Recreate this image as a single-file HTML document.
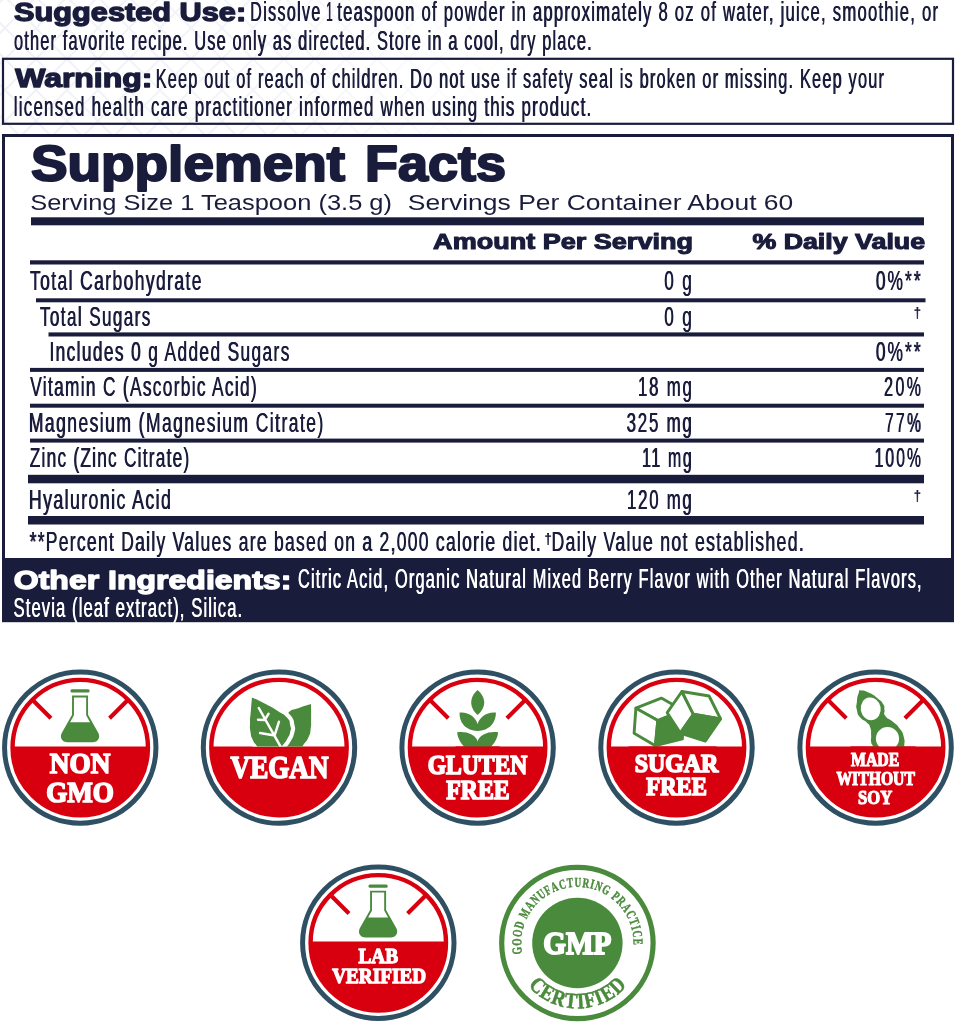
<!DOCTYPE html>
<html><head><meta charset="utf-8"><title>Supplement Facts</title>
<style>
html,body{margin:0;padding:0;background:#fff;}
body{width:956px;height:1024px;overflow:hidden;font-family:"Liberation Sans",sans-serif;}
svg{display:block;will-change:transform;}
text{white-space:pre;}
</style></head><body>
<svg width="956" height="1024" viewBox="0 0 956 1024">
<rect width="956" height="1024" fill="#ffffff"/>
<defs><pattern id="lat" width="31" height="31" patternUnits="userSpaceOnUse" patternTransform="translate(5,28)"><path d="M-1,-1 L32,32 M32,-1 L-1,32" stroke="#f1f2f8" stroke-width="2" fill="none"/></pattern><linearGradient id="fade" x1="0" x2="1" y1="0" y2="0"><stop offset="0" stop-color="#fff"/><stop offset="0.45" stop-color="#fff" stop-opacity="0.8"/><stop offset="1" stop-color="#fff" stop-opacity="0"/></linearGradient><mask id="fadeMask"><rect x="0" y="0" width="560" height="134" fill="url(#fade)"/></mask></defs>
<rect x="0" y="0" width="560" height="134" fill="url(#lat)" mask="url(#fadeMask)"/>
<text transform="translate(14.11,21.00) scale(1.2282,1)" font-family="Liberation Sans" font-size="25.0" font-weight="bold" fill="#1a1c3c" textLength="188.93" lengthAdjust="spacing"  stroke="#1a1c3c" stroke-width="1.35" stroke-linejoin="round">Suggested Use:</text>
<text id="t2" transform="translate(250.02,21.40) scale(0.5714,1)" font-family="Liberation Sans" font-size="28.0" font-weight="normal" fill="#1a1c3c" textLength="122.47" lengthAdjust="spacing" >Dissolve</text>
<use href="#t2" transform="translate(0.60,0)"/>
<text id="t3" transform="translate(325.93,21.40) scale(0.4129,1)" font-family="Liberation Sans" font-size="28.0" font-weight="normal" fill="#1a1c3c" textLength="15.57" lengthAdjust="spacing" >1</text>
<use href="#t3" transform="translate(0.60,0)"/>
<text id="t4" transform="translate(336.95,21.40) scale(0.5960,1)" font-family="Liberation Sans" font-size="28.0" font-weight="normal" fill="#1a1c3c" textLength="1007.95" lengthAdjust="spacing" >teaspoon of powder in approximately 8 oz of water, juice, smoothie, or</text>
<use href="#t4" transform="translate(0.60,0)"/>
<text id="t5" transform="translate(13.74,49.70) scale(0.5860,1)" font-family="Liberation Sans" font-size="28.0" font-weight="normal" fill="#1a1c3c" textLength="985.72" lengthAdjust="spacing" >other favorite recipe. Use only as directed. Store in a cool, dry place.</text>
<use href="#t5" transform="translate(0.60,0)"/>
<rect x="3" y="58.8" width="950" height="65" fill="none" stroke="#1a1c3c" stroke-width="2.2"/>
<text transform="translate(15.25,87.40) scale(1.2762,1)" font-family="Liberation Sans" font-size="25.0" font-weight="bold" fill="#1a1c3c" textLength="107.39" lengthAdjust="spacing"  stroke="#1a1c3c" stroke-width="1.32" stroke-linejoin="round">Warning:</text>
<text id="t7" transform="translate(155.39,87.60) scale(0.5842,1)" font-family="Liberation Sans" font-size="28.0" font-weight="normal" fill="#1a1c3c" textLength="1246.53" lengthAdjust="spacing" >Keep out of reach of children. Do not use if safety seal is broken or missing. Keep your</text>
<use href="#t7" transform="translate(0.60,0)"/>
<text id="t8" transform="translate(13.50,115.50) scale(0.6047,1)" font-family="Liberation Sans" font-size="28.0" font-weight="normal" fill="#1a1c3c" textLength="954.89" lengthAdjust="spacing" >licensed health care practitioner informed when using this product.</text>
<use href="#t8" transform="translate(0.60,0)"/>
<rect x="3.5" y="135.5" width="949" height="424" fill="#ffffff" stroke="#1a1c3c" stroke-width="3"/>
<text transform="translate(30.99,181.00) scale(1.1084,1)" font-family="Liberation Sans" font-size="49.5" font-weight="bold" fill="#1a1c3c" textLength="283.28" lengthAdjust="spacing"  stroke="#1a1c3c" stroke-width="2.09" stroke-linejoin="round">Supplement</text>
<text transform="translate(365.09,181.00) scale(1.0901,1)" font-family="Liberation Sans" font-size="49.5" font-weight="bold" fill="#1a1c3c" textLength="129.31" lengthAdjust="spacing"  stroke="#1a1c3c" stroke-width="2.11" stroke-linejoin="round">Facts</text>
<text transform="translate(30.15,210.00) scale(1.1167,1)" font-family="Liberation Sans" font-size="22.8" font-weight="normal" fill="#1a1c3c" textLength="324.05" lengthAdjust="spacing" >Serving Size 1 Teaspoon (3.5 g)</text>
<text transform="translate(407.81,210.00) scale(1.1608,1)" font-family="Liberation Sans" font-size="22.8" font-weight="normal" fill="#1a1c3c" textLength="332.08" lengthAdjust="spacing" >Servings Per Container About 60</text>
<rect x="31.00" y="217.30" width="893.00" height="8.00" fill="#1a1c3c"/>
<text transform="translate(433.12,248.50) scale(1.2750,1)" font-family="Liberation Sans" font-size="21.2" font-weight="bold" fill="#1a1c3c" textLength="203.80" lengthAdjust="spacing"  stroke="#1a1c3c" stroke-width="1.05" stroke-linejoin="round">Amount Per Serving</text>
<text transform="translate(752.40,248.50) scale(1.2633,1)" font-family="Liberation Sans" font-size="21.2" font-weight="bold" fill="#1a1c3c" textLength="136.70" lengthAdjust="spacing"  stroke="#1a1c3c" stroke-width="1.06" stroke-linejoin="round">% Daily Value</text>
<rect x="30.00" y="260.30" width="894.00" height="4.20" fill="#1a1c3c"/>
<text id="t15" transform="translate(29.65,290.00) scale(0.6197,1)" font-family="Liberation Sans" font-size="28.2" font-weight="normal" fill="#1a1c3c" textLength="276.77" lengthAdjust="spacing" >Total Carbohydrate</text>
<use href="#t15" transform="translate(0.60,0)"/>
<text id="t16" transform="translate(663.96,290.00) scale(0.6099,1)" font-family="Liberation Sans" font-size="28.2" font-weight="normal" fill="#1a1c3c" textLength="45.13" lengthAdjust="spacing" >0 g</text>
<use href="#t16" transform="translate(0.60,0)"/>
<text id="t17" transform="translate(875.55,290.00) scale(0.6162,1)" font-family="Liberation Sans" font-size="28.2" font-weight="normal" fill="#1a1c3c" textLength="72.68" lengthAdjust="spacing" >0%**</text>
<use href="#t17" transform="translate(0.60,0)"/>
<rect x="36.00" y="298.30" width="889.50" height="4.00" fill="#1a1c3c"/>
<text id="t18" transform="translate(39.66,325.80) scale(0.6061,1)" font-family="Liberation Sans" font-size="28.2" font-weight="normal" fill="#1a1c3c" textLength="182.03" lengthAdjust="spacing" >Total Sugars</text>
<use href="#t18" transform="translate(0.60,0)"/>
<text id="t19" transform="translate(663.96,325.80) scale(0.6099,1)" font-family="Liberation Sans" font-size="28.2" font-weight="normal" fill="#1a1c3c" textLength="45.13" lengthAdjust="spacing" >0 g</text>
<use href="#t19" transform="translate(0.60,0)"/>
<text id="t20" transform="translate(913.55,318.30) scale(0.8769,1)" font-family="Liberation Sans" font-size="15" font-weight="normal" fill="#1a1c3c" textLength="9.38" lengthAdjust="spacing" >†</text>
<use href="#t20" transform="translate(0.50,0)"/>
<rect x="48.50" y="332.40" width="875.50" height="4.10" fill="#1a1c3c"/>
<text id="t21" transform="translate(49.14,360.70) scale(0.6129,1)" font-family="Liberation Sans" font-size="28.2" font-weight="normal" fill="#1a1c3c" textLength="391.39" lengthAdjust="spacing" >Includes 0 g Added Sugars</text>
<use href="#t21" transform="translate(0.60,0)"/>
<text id="t22" transform="translate(875.55,360.70) scale(0.6162,1)" font-family="Liberation Sans" font-size="28.2" font-weight="normal" fill="#1a1c3c" textLength="72.68" lengthAdjust="spacing" >0%**</text>
<use href="#t22" transform="translate(0.60,0)"/>
<rect x="30.00" y="367.90" width="894.00" height="4.00" fill="#1a1c3c"/>
<text id="t23" transform="translate(29.96,396.00) scale(0.6137,1)" font-family="Liberation Sans" font-size="28.2" font-weight="normal" fill="#1a1c3c" textLength="369.03" lengthAdjust="spacing" >Vitamin C (Ascorbic Acid)</text>
<use href="#t23" transform="translate(0.60,0)"/>
<text id="t24" transform="translate(637.74,396.00) scale(0.5938,1)" font-family="Liberation Sans" font-size="28.2" font-weight="normal" fill="#1a1c3c" textLength="90.50" lengthAdjust="spacing" >18 mg</text>
<use href="#t24" transform="translate(0.60,0)"/>
<text id="t25" transform="translate(883.80,396.00) scale(0.5646,1)" font-family="Liberation Sans" font-size="28.2" font-weight="normal" fill="#1a1c3c" textLength="65.25" lengthAdjust="spacing" >20%</text>
<use href="#t25" transform="translate(0.60,0)"/>
<rect x="30.00" y="403.70" width="894.00" height="4.00" fill="#1a1c3c"/>
<text id="t26" transform="translate(28.60,431.70) scale(0.6197,1)" font-family="Liberation Sans" font-size="28.2" font-weight="normal" fill="#1a1c3c" textLength="474.99" lengthAdjust="spacing" >Magnesium (Magnesium Citrate)</text>
<use href="#t26" transform="translate(0.60,0)"/>
<text id="t27" transform="translate(626.37,431.70) scale(0.5977,1)" font-family="Liberation Sans" font-size="28.2" font-weight="normal" fill="#1a1c3c" textLength="108.91" lengthAdjust="spacing" >325 mg</text>
<use href="#t27" transform="translate(0.60,0)"/>
<text id="t28" transform="translate(884.72,431.70) scale(0.5503,1)" font-family="Liberation Sans" font-size="28.2" font-weight="normal" fill="#1a1c3c" textLength="65.25" lengthAdjust="spacing" >77%</text>
<use href="#t28" transform="translate(0.60,0)"/>
<rect x="30.00" y="438.60" width="894.00" height="4.00" fill="#1a1c3c"/>
<text id="t29" transform="translate(29.48,466.50) scale(0.6130,1)" font-family="Liberation Sans" font-size="28.2" font-weight="normal" fill="#1a1c3c" textLength="260.13" lengthAdjust="spacing" >Zinc (Zinc Citrate)</text>
<use href="#t29" transform="translate(0.60,0)"/>
<text id="t30" transform="translate(641.81,466.50) scale(0.5630,1)" font-family="Liberation Sans" font-size="28.2" font-weight="normal" fill="#1a1c3c" textLength="88.07" lengthAdjust="spacing" >11 mg</text>
<use href="#t30" transform="translate(0.60,0)"/>
<text id="t31" transform="translate(874.32,466.50) scale(0.5557,1)" font-family="Liberation Sans" font-size="28.2" font-weight="normal" fill="#1a1c3c" textLength="83.36" lengthAdjust="spacing" >100%</text>
<use href="#t31" transform="translate(0.60,0)"/>
<rect x="28.00" y="474.80" width="896.00" height="8.50" fill="#1a1c3c"/>
<text id="t32" transform="translate(28.58,508.50) scale(0.6300,1)" font-family="Liberation Sans" font-size="28.2" font-weight="normal" fill="#1a1c3c" textLength="225.34" lengthAdjust="spacing" >Hyaluronic Acid</text>
<use href="#t32" transform="translate(0.60,0)"/>
<text id="t33" transform="translate(626.74,508.50) scale(0.5951,1)" font-family="Liberation Sans" font-size="28.2" font-weight="normal" fill="#1a1c3c" textLength="108.74" lengthAdjust="spacing" >120 mg</text>
<use href="#t33" transform="translate(0.60,0)"/>
<text id="t34" transform="translate(913.55,501.00) scale(0.8769,1)" font-family="Liberation Sans" font-size="15" font-weight="normal" fill="#1a1c3c" textLength="9.38" lengthAdjust="spacing" >†</text>
<use href="#t34" transform="translate(0.50,0)"/>
<rect x="28.00" y="516.00" width="896.00" height="8.50" fill="#1a1c3c"/>
<text id="t35" transform="translate(29.34,551.00) scale(0.6212,1)" font-family="Liberation Sans" font-size="28.2" font-weight="normal" fill="#1a1c3c" textLength="822.85" lengthAdjust="spacing" >**Percent Daily Values are based on a 2,000 calorie diet.</text>
<use href="#t35" transform="translate(0.60,0)"/>
<text id="t36" transform="translate(544.36,543.50) scale(0.8627,1)" font-family="Liberation Sans" font-size="15" font-weight="normal" fill="#1a1c3c" textLength="8.34" lengthAdjust="spacing" >†</text>
<use href="#t36" transform="translate(0.50,0)"/>
<text id="t37" transform="translate(551.18,551.00) scale(0.6285,1)" font-family="Liberation Sans" font-size="28.2" font-weight="normal" fill="#1a1c3c" textLength="401.47" lengthAdjust="spacing" >Daily Value not established.</text>
<use href="#t37" transform="translate(0.60,0)"/>
<rect x="2.00" y="558.60" width="952.00" height="63.60" fill="#1a1c3c"/>
<text transform="translate(13.77,588.70) scale(1.2083,1)" font-family="Liberation Sans" font-size="26.5" font-weight="bold" fill="#ffffff" textLength="229.70" lengthAdjust="spacing"  stroke="#ffffff" stroke-width="1.36" stroke-linejoin="round">Other Ingredients:</text>
<text id="t39" transform="translate(297.68,588.30) scale(0.5794,1)" font-family="Liberation Sans" font-size="28.2" font-weight="normal" fill="#ffffff" textLength="1076.34" lengthAdjust="spacing" >Citric Acid, Organic Natural Mixed Berry Flavor with Other Natural Flavors,</text>
<use href="#t39" transform="translate(0.60,0)"/>
<text id="t40" transform="translate(13.25,616.60) scale(0.5900,1)" font-family="Liberation Sans" font-size="28.2" font-weight="normal" fill="#ffffff" textLength="387.55" lengthAdjust="spacing" >Stevia (leaf extract), Silica.</text>
<use href="#t40" transform="translate(0.60,0)"/>
<g transform="translate(80.25,747.60)">
<circle r="75.7" fill="#fff" stroke="#2f4f63" stroke-width="5"/>
<circle r="67.7" fill="#fff" stroke="#d8000f" stroke-width="4.4"/>
<path d="M-68,-1.2 H68 A68,68 0 0 1 -68,-1.2 Z" fill="#d8000f"/>
<path d="M-48.6,-48.6 L-29.3,-29.3 M48.6,-48.6 L29.3,-29.3" stroke="#d8000f" stroke-width="4.1" fill="none"/>
<g fill="#4a8a3c" transform="translate(-0.2,0)">
<rect x="-9.6" y="-58.3" width="19.2" height="3.3" rx="1.5"/>
<path d="M-8,-52.1 H8 V-32.9 L18.3,-14.5 C20.6,-10 18,-5.3 12.5,-5.3 H-12.5 C-18,-5.3 -20.6,-10 -18.3,-14.5 L-8,-32.9 Z M-6.1,-50.2 V-32.3 L-10,-25.3 H10 L6.1,-32.3 V-50.2 Z" fill-rule="evenodd"/>
</g>
<text x="-30.40" y="25.55" font-family="Liberation Serif" font-weight="bold" font-size="29.5" fill="#fff" stroke="#fff" stroke-width="1.7" stroke-linejoin="round" textLength="60.50" lengthAdjust="spacingAndGlyphs">NON</text>
<text x="-34.00" y="53.95" font-family="Liberation Serif" font-weight="bold" font-size="29.5" fill="#fff" stroke="#fff" stroke-width="1.7" stroke-linejoin="round" textLength="67.70" lengthAdjust="spacingAndGlyphs">GMO</text>
</g>
<g transform="translate(279.00,747.60)">
<circle r="75.7" fill="#fff" stroke="#2f4f63" stroke-width="5"/>
<circle r="67.7" fill="#fff" stroke="#d8000f" stroke-width="4.4"/>
<path d="M-68,-1.2 H68 A68,68 0 0 1 -68,-1.2 Z" fill="#d8000f"/>
<defs><clipPath id="clipTop"><rect x="-70" y="-70" width="140" height="68.8"/></clipPath></defs>
<g clip-path="url(#clipTop)">
<path d="M31.96,-43.50 C32.01,-38.70 32.19,-37.23 32.10,-29.10 C32.01,-20.97 32.53,-25.23 31.70,-19.10 C30.87,-12.97 31.97,-16.00 29.60,-10.70 C27.23,-5.40 27.47,-7.10 24.60,-3.20 C21.73,0.70 26.53,-0.40 21.00,1.00 C15.47,2.40 13.67,4.67 8.00,1.00 C2.33,-2.67 5.00,-1.33 4.00,-10.00 C3.00,-18.67 3.30,-16.80 5.00,-25.00 C6.70,-33.20 4.10,-29.77 9.10,-34.60 C14.10,-39.43 12.38,-36.53 20.00,-39.50 C27.62,-42.47 27.97,-42.17 31.96,-43.50 Z" fill="#4a8a3c"/>
<path d="M-27.03,-50.20 C-22.65,-48.07 -22.48,-48.30 -13.90,-43.80 C-5.32,-39.30 -8.57,-41.30 -1.30,-36.70 C5.97,-32.10 3.73,-34.77 7.90,-30.00 C12.07,-25.23 10.10,-27.17 11.20,-22.40 C12.30,-17.63 12.30,-20.43 11.20,-15.70 C10.10,-10.97 10.53,-12.80 7.90,-8.20 C5.27,-3.60 5.93,-5.30 3.30,-1.90 C0.67,1.50 7.43,0.70 0.00,2.00 C-7.43,3.30 -11.57,3.30 -19.00,2.00 C-26.43,0.70 -19.83,1.50 -22.30,-1.90 C-24.77,-5.30 -24.33,-3.60 -26.40,-8.20 C-28.47,-12.80 -27.63,-10.13 -28.50,-15.70 C-29.37,-21.27 -29.13,-17.63 -29.00,-24.90 C-28.87,-32.17 -28.76,-29.07 -28.10,-37.50 C-27.44,-45.93 -27.39,-45.97 -27.03,-50.20 Z" fill="none" stroke="#fff" stroke-width="8.4" stroke-linejoin="round"/>
<path d="M-27.03,-50.20 C-22.65,-48.07 -22.48,-48.30 -13.90,-43.80 C-5.32,-39.30 -8.57,-41.30 -1.30,-36.70 C5.97,-32.10 3.73,-34.77 7.90,-30.00 C12.07,-25.23 10.10,-27.17 11.20,-22.40 C12.30,-17.63 12.30,-20.43 11.20,-15.70 C10.10,-10.97 10.53,-12.80 7.90,-8.20 C5.27,-3.60 5.93,-5.30 3.30,-1.90 C0.67,1.50 7.43,0.70 0.00,2.00 C-7.43,3.30 -11.57,3.30 -19.00,2.00 C-26.43,0.70 -19.83,1.50 -22.30,-1.90 C-24.77,-5.30 -24.33,-3.60 -26.40,-8.20 C-28.47,-12.80 -27.63,-10.13 -28.50,-15.70 C-29.37,-21.27 -29.13,-17.63 -29.00,-24.90 C-28.87,-32.17 -28.76,-29.07 -28.10,-37.50 C-27.44,-45.93 -27.39,-45.97 -27.03,-50.20 Z" fill="#4a8a3c"/>
<path d="M-20.2,-39.6 L1.6,-1 M-13.9,-28.3 L-10.5,-33.7 M-13.9,-27.6 L-21,-27.9 M-4.3,-12.4 L-0.1,-25.8 M-4.3,-12 L-18.9,-14.5" stroke="#fff" stroke-width="2.5" stroke-linecap="round" fill="none"/>
</g>
<text x="-48.45" y="29.95" font-family="Liberation Serif" font-weight="bold" font-size="32" fill="#fff" stroke="#fff" stroke-width="1.7" stroke-linejoin="round" textLength="97.90" lengthAdjust="spacingAndGlyphs">VEGAN</text>
</g>
<g transform="translate(477.60,747.60)">
<circle r="75.7" fill="#fff" stroke="#2f4f63" stroke-width="5"/>
<circle r="67.7" fill="#fff" stroke="#d8000f" stroke-width="4.4"/>
<path d="M-68,-1.2 H68 A68,68 0 0 1 -68,-1.2 Z" fill="#d8000f"/>
<path d="M-48.6,-48.6 L-29.3,-29.3 M48.6,-48.6 L29.3,-29.3" stroke="#d8000f" stroke-width="4.1" fill="none"/>
<g fill="#4a8a3c">
<path d="M0,-57.6 C4.5,-54 6.6,-49 6.6,-45 C6.6,-40 3.5,-35.5 0,-32.6 C-3.5,-35.5 -6.4,-40 -6.4,-45 C-6.4,-49 -4.5,-54 0,-57.6 Z"/>
<path d="M-18,-35 C-14,-35.6 -9,-34.5 -5.5,-31.5 C-2.5,-29 -0.5,-26 0,-23.3 C0.5,-26 2.5,-29 5.5,-31.5 C9,-34.5 14,-35.6 18.3,-35 C18.5,-31 17,-26 14,-22.5 C10.5,-18.5 5,-16.5 0,-16.6 C-5,-16.5 -10.5,-18.5 -14,-22.5 C-17,-26 -18.3,-31 -18,-35 Z"/>
<path d="M-20.4,-15.3 C-16,-16 -10,-15.5 -6,-13 C-2.5,-11 -0.5,-8.5 0,-6.1 C0.5,-8.5 2.5,-11 6,-13 C10,-15.5 16,-16 20.5,-15.3 C20.3,-10 17,-4 12.8,-0.5 H-12.8 C-17,-4 -20.2,-10 -20.4,-15.3 Z"/>
</g>
<rect x="-22" y="-1.2" width="44" height="3" fill="#d8000f"/>
<text x="-49.95" y="26.45" font-family="Liberation Serif" font-weight="bold" font-size="27" fill="#fff" stroke="#fff" stroke-width="1.7" stroke-linejoin="round" textLength="99.70" lengthAdjust="spacingAndGlyphs">GLUTEN</text>
<text x="-31.25" y="51.35" font-family="Liberation Serif" font-weight="bold" font-size="27" fill="#fff" stroke="#fff" stroke-width="1.7" stroke-linejoin="round" textLength="63.20" lengthAdjust="spacingAndGlyphs">FREE</text>
</g>
<g transform="translate(676.50,747.60)">
<circle r="75.7" fill="#fff" stroke="#2f4f63" stroke-width="5"/>
<circle r="67.7" fill="#fff" stroke="#d8000f" stroke-width="4.4"/>
<path d="M-68,-1.2 H68 A68,68 0 0 1 -68,-1.2 Z" fill="#d8000f"/>
<polygon points="-40.6,-39.4 -15.2,-49.5 6.7,-37.2 -18.7,-27.0" fill="#fff" stroke="#4a8a3c" stroke-width="2.9" stroke-linejoin="round"/>
<polygon points="-40.6,-39.4 -18.7,-27.0 -21.1,-1.9 -42.4,-14.3" fill="#fff" stroke="#4a8a3c" stroke-width="2.9" stroke-linejoin="round"/>
<polygon points="-18.7,-27.0 6.7,-37.2 5.9,-8.7 -21.1,-1.9" fill="#4a8a3c" stroke="#4a8a3c" stroke-width="2.9" stroke-linejoin="round"/>
<polygon points="-9.3,-34.9 5.4,-56.1 16.9,-33.3 3.8,-14.5" fill="#fff" stroke="#4a8a3c" stroke-width="2.9" stroke-linejoin="round"/>
<polygon points="5.4,-56.1 32.6,-51.6 44.1,-28.6 16.9,-33.3" fill="#fff" stroke="#4a8a3c" stroke-width="2.9" stroke-linejoin="round"/>
<polygon points="16.9,-33.3 44.1,-28.6 28.9,-6.6 3.8,-14.5" fill="#4a8a3c" stroke="#4a8a3c" stroke-width="2.9" stroke-linejoin="round"/>
<rect x="-48" y="-1.2" width="88" height="3" fill="#d8000f"/>
<text x="-41.85" y="24.65" font-family="Liberation Serif" font-weight="bold" font-size="26" fill="#fff" stroke="#fff" stroke-width="1.7" stroke-linejoin="round" textLength="83.70" lengthAdjust="spacingAndGlyphs">SUGAR</text>
<text x="-30.25" y="47.65" font-family="Liberation Serif" font-weight="bold" font-size="26" fill="#fff" stroke="#fff" stroke-width="1.7" stroke-linejoin="round" textLength="60.60" lengthAdjust="spacingAndGlyphs">FREE</text>
</g>
<g transform="translate(875.60,747.60)">
<circle r="75.7" fill="#fff" stroke="#2f4f63" stroke-width="5"/>
<circle r="67.7" fill="#fff" stroke="#d8000f" stroke-width="4.4"/>
<path d="M-68,-1.2 H68 A68,68 0 0 1 -68,-1.2 Z" fill="#d8000f"/>
<path d="M-48.6,-48.6 L-29.3,-29.3 M48.6,-48.6 L29.3,-29.3" stroke="#d8000f" stroke-width="4.1" fill="none"/>
<path d="M-14.50,-57.20 C-10.90,-57.25 -11.67,-57.32 -6.10,-54.65 C-0.53,-51.98 -2.40,-52.97 2.20,-49.20 C6.80,-45.43 5.47,-47.25 7.70,-43.35 C9.93,-39.45 8.20,-41.42 8.90,-37.50 C9.60,-33.58 7.00,-35.50 9.80,-31.60 C12.60,-27.70 12.57,-29.97 17.30,-25.80 C22.03,-21.63 20.37,-24.13 24.00,-19.10 C27.63,-14.07 26.63,-16.57 28.20,-10.70 C29.77,-4.83 28.60,-6.07 28.70,-1.50 C28.80,3.07 38.73,1.50 28.50,3.00 C18.27,4.50 8.43,4.50 -2.00,3.00 C-12.43,1.50 -1.98,1.40 -2.80,-1.50 C-3.62,-4.40 -3.90,-2.07 -4.45,-5.70 C-5.00,-9.33 -4.17,-7.67 -4.45,-12.40 C-4.73,-17.13 -3.92,-15.73 -5.30,-19.90 C-6.68,-24.07 -5.27,-21.53 -8.60,-24.90 C-11.93,-28.27 -11.93,-25.80 -15.30,-30.00 C-18.67,-34.20 -17.57,-32.20 -18.70,-37.50 C-19.83,-42.80 -19.30,-40.23 -18.70,-45.90 C-18.10,-51.57 -18.30,-50.73 -16.90,-54.50 C-15.50,-58.27 -18.10,-57.15 -14.50,-57.20 Z" fill="#4a8a3c"/>
<ellipse cx="-4.9" cy="-38.75" rx="10" ry="11.4" fill="#fff" transform="rotate(-10 -4.9 -38.75)"/>
<circle cx="11.9" cy="-9.0" r="11.6" fill="#fff"/>
<rect x="-25" y="-1.2" width="65" height="14" fill="#d8000f"/>
<text x="-24.60" y="18.70" font-family="Liberation Serif" font-weight="bold" font-size="19.5" fill="#fff" stroke="#fff" stroke-width="1.2" stroke-linejoin="round" textLength="48.30" lengthAdjust="spacingAndGlyphs">MADE</text>
<text x="-39.20" y="37.90" font-family="Liberation Serif" font-weight="bold" font-size="19.5" fill="#fff" stroke="#fff" stroke-width="1.2" stroke-linejoin="round" textLength="78.50" lengthAdjust="spacingAndGlyphs">WITHOUT</text>
<text x="-17.50" y="56.40" font-family="Liberation Serif" font-weight="bold" font-size="19.5" fill="#fff" stroke="#fff" stroke-width="1.2" stroke-linejoin="round" textLength="34.10" lengthAdjust="spacingAndGlyphs">SOY</text>
</g>
<g transform="translate(378.30,942.80)">
<circle r="75.7" fill="#fff" stroke="#2f4f63" stroke-width="5"/>
<circle r="67.7" fill="#fff" stroke="#d8000f" stroke-width="4.4"/>
<path d="M-68,-1.2 H68 A68,68 0 0 1 -68,-1.2 Z" fill="#d8000f"/>
<path d="M-48.6,-48.6 L-29.3,-29.3 M48.6,-48.6 L29.3,-29.3" stroke="#d8000f" stroke-width="4.1" fill="none"/>
<g fill="#4a8a3c" transform="translate(-0.2,0)">
<rect x="-9.6" y="-58.3" width="19.2" height="3.3" rx="1.5"/>
<path d="M-8,-52.1 H8 V-32.9 L18.3,-14.5 C20.6,-10 18,-5.3 12.5,-5.3 H-12.5 C-18,-5.3 -20.6,-10 -18.3,-14.5 L-8,-32.9 Z M-6.1,-50.2 V-32.3 L-10,-25.3 H10 L6.1,-32.3 V-50.2 Z" fill-rule="evenodd"/>
</g>
<text x="-19.85" y="20.55" font-family="Liberation Serif" font-weight="bold" font-size="21.3" fill="#fff" stroke="#fff" stroke-width="1.3" stroke-linejoin="round" textLength="39.70" lengthAdjust="spacingAndGlyphs">LAB</text>
<text x="-46.15" y="40.15" font-family="Liberation Serif" font-weight="bold" font-size="21.3" fill="#fff" stroke="#fff" stroke-width="1.3" stroke-linejoin="round" textLength="93.90" lengthAdjust="spacingAndGlyphs">VERIFIED</text>
</g>
<g transform="translate(577.4,943)">
<circle r="75.7" fill="#fff" stroke="#4a8a3c" stroke-width="5.2"/>
<circle r="45.2" fill="#4a8a3c"/>
<text x="-34.2" y="10.8" font-family="Liberation Serif" font-weight="bold" font-size="32.5" fill="#fff" stroke="#fff" stroke-width="1.9" stroke-linejoin="round" textLength="68" lengthAdjust="spacingAndGlyphs">GMP</text>
<text transform="translate(-55.74,7.17) rotate(-97.33) scale(0.68,1)" text-anchor="middle" font-family="Liberation Serif" font-weight="bold" font-size="13.6" fill="#4a8a3c" stroke="#4a8a3c" stroke-width="0.45">G</text>
<text transform="translate(-56.19,-0.90) rotate(-89.08) scale(0.68,1)" text-anchor="middle" font-family="Liberation Serif" font-weight="bold" font-size="13.6" fill="#4a8a3c" stroke="#4a8a3c" stroke-width="0.45">O</text>
<text transform="translate(-55.48,-8.95) rotate(-80.83) scale(0.68,1)" text-anchor="middle" font-family="Liberation Serif" font-weight="bold" font-size="13.6" fill="#4a8a3c" stroke="#4a8a3c" stroke-width="0.45">O</text>
<text transform="translate(-53.70,-16.57) rotate(-72.85) scale(0.68,1)" text-anchor="middle" font-family="Liberation Serif" font-weight="bold" font-size="13.6" fill="#4a8a3c" stroke="#4a8a3c" stroke-width="0.45">D</text>
<text transform="translate(-49.06,-27.41) rotate(-60.80) scale(0.68,1)" text-anchor="middle" font-family="Liberation Serif" font-weight="bold" font-size="13.6" fill="#4a8a3c" stroke="#4a8a3c" stroke-width="0.45">M</text>
<text transform="translate(-44.31,-34.57) rotate(-52.04) scale(0.68,1)" text-anchor="middle" font-family="Liberation Serif" font-weight="bold" font-size="13.6" fill="#4a8a3c" stroke="#4a8a3c" stroke-width="0.45">A</text>
<text transform="translate(-39.26,-40.21) rotate(-44.31) scale(0.68,1)" text-anchor="middle" font-family="Liberation Serif" font-weight="bold" font-size="13.6" fill="#4a8a3c" stroke="#4a8a3c" stroke-width="0.45">N</text>
<text transform="translate(-33.50,-45.13) rotate(-36.59) scale(0.68,1)" text-anchor="middle" font-family="Liberation Serif" font-weight="bold" font-size="13.6" fill="#4a8a3c" stroke="#4a8a3c" stroke-width="0.45">U</text>
<text transform="translate(-27.58,-48.97) rotate(-29.39) scale(0.68,1)" text-anchor="middle" font-family="Liberation Serif" font-weight="bold" font-size="13.6" fill="#4a8a3c" stroke="#4a8a3c" stroke-width="0.45">F</text>
<text transform="translate(-21.22,-52.04) rotate(-22.19) scale(0.68,1)" text-anchor="middle" font-family="Liberation Serif" font-weight="bold" font-size="13.6" fill="#4a8a3c" stroke="#4a8a3c" stroke-width="0.45">A</text>
<text transform="translate(-14.03,-54.42) rotate(-14.46) scale(0.68,1)" text-anchor="middle" font-family="Liberation Serif" font-weight="bold" font-size="13.6" fill="#4a8a3c" stroke="#4a8a3c" stroke-width="0.45">C</text>
<text transform="translate(-6.84,-55.78) rotate(-7.00) scale(0.68,1)" text-anchor="middle" font-family="Liberation Serif" font-weight="bold" font-size="13.6" fill="#4a8a3c" stroke="#4a8a3c" stroke-width="0.45">T</text>
<text transform="translate(0.46,-56.20) rotate(0.47) scale(0.68,1)" text-anchor="middle" font-family="Liberation Serif" font-weight="bold" font-size="13.6" fill="#4a8a3c" stroke="#4a8a3c" stroke-width="0.45">U</text>
<text transform="translate(8.01,-55.63) rotate(8.19) scale(0.68,1)" text-anchor="middle" font-family="Liberation Serif" font-weight="bold" font-size="13.6" fill="#4a8a3c" stroke="#4a8a3c" stroke-width="0.45">R</text>
<text transform="translate(13.93,-54.45) rotate(14.35) scale(0.68,1)" text-anchor="middle" font-family="Liberation Serif" font-weight="bold" font-size="13.6" fill="#4a8a3c" stroke="#4a8a3c" stroke-width="0.45">I</text>
<text transform="translate(19.69,-52.64) rotate(20.50) scale(0.68,1)" text-anchor="middle" font-family="Liberation Serif" font-weight="bold" font-size="13.6" fill="#4a8a3c" stroke="#4a8a3c" stroke-width="0.45">N</text>
<text transform="translate(26.81,-49.39) rotate(28.49) scale(0.68,1)" text-anchor="middle" font-family="Liberation Serif" font-weight="bold" font-size="13.6" fill="#4a8a3c" stroke="#4a8a3c" stroke-width="0.45">G</text>
<text transform="translate(35.54,-43.54) rotate(39.23) scale(0.68,1)" text-anchor="middle" font-family="Liberation Serif" font-weight="bold" font-size="13.6" fill="#4a8a3c" stroke="#4a8a3c" stroke-width="0.45">P</text>
<text transform="translate(40.72,-38.74) rotate(46.43) scale(0.68,1)" text-anchor="middle" font-family="Liberation Serif" font-weight="bold" font-size="13.6" fill="#4a8a3c" stroke="#4a8a3c" stroke-width="0.45">R</text>
<text transform="translate(45.55,-32.91) rotate(54.15) scale(0.68,1)" text-anchor="middle" font-family="Liberation Serif" font-weight="bold" font-size="13.6" fill="#4a8a3c" stroke="#4a8a3c" stroke-width="0.45">A</text>
<text transform="translate(49.56,-26.49) rotate(61.88) scale(0.68,1)" text-anchor="middle" font-family="Liberation Serif" font-weight="bold" font-size="13.6" fill="#4a8a3c" stroke="#4a8a3c" stroke-width="0.45">C</text>
<text transform="translate(52.59,-19.83) rotate(69.34) scale(0.68,1)" text-anchor="middle" font-family="Liberation Serif" font-weight="bold" font-size="13.6" fill="#4a8a3c" stroke="#4a8a3c" stroke-width="0.45">T</text>
<text transform="translate(54.34,-14.32) rotate(75.24) scale(0.68,1)" text-anchor="middle" font-family="Liberation Serif" font-weight="bold" font-size="13.6" fill="#4a8a3c" stroke="#4a8a3c" stroke-width="0.45">I</text>
<text transform="translate(55.57,-8.41) rotate(81.39) scale(0.68,1)" text-anchor="middle" font-family="Liberation Serif" font-weight="bold" font-size="13.6" fill="#4a8a3c" stroke="#4a8a3c" stroke-width="0.45">C</text>
<text transform="translate(56.19,-1.12) rotate(88.86) scale(0.68,1)" text-anchor="middle" font-family="Liberation Serif" font-weight="bold" font-size="13.6" fill="#4a8a3c" stroke="#4a8a3c" stroke-width="0.45">E</text>
<text transform="translate(-44.66,47.64) rotate(43.14) scale(0.84,1)" text-anchor="middle" font-family="Liberation Serif" font-weight="bold" font-size="22" fill="#4a8a3c" stroke="#4a8a3c" stroke-width="0.6">C</text>
<text transform="translate(-33.53,56.03) rotate(30.89) scale(0.84,1)" text-anchor="middle" font-family="Liberation Serif" font-weight="bold" font-size="22" fill="#4a8a3c" stroke="#4a8a3c" stroke-width="0.6">E</text>
<text transform="translate(-20.88,61.87) rotate(18.64) scale(0.84,1)" text-anchor="middle" font-family="Liberation Serif" font-weight="bold" font-size="22" fill="#4a8a3c" stroke="#4a8a3c" stroke-width="0.6">R</text>
<text transform="translate(-7.27,64.89) rotate(6.39) scale(0.84,1)" text-anchor="middle" font-family="Liberation Serif" font-weight="bold" font-size="22" fill="#4a8a3c" stroke="#4a8a3c" stroke-width="0.6">T</text>
<text transform="translate(3.59,65.20) rotate(-3.16) scale(0.84,1)" text-anchor="middle" font-family="Liberation Serif" font-weight="bold" font-size="22" fill="#4a8a3c" stroke="#4a8a3c" stroke-width="0.6">I</text>
<text transform="translate(13.86,63.81) rotate(-12.25) scale(0.84,1)" text-anchor="middle" font-family="Liberation Serif" font-weight="bold" font-size="22" fill="#4a8a3c" stroke="#4a8a3c" stroke-width="0.6">F</text>
<text transform="translate(23.77,60.82) rotate(-21.34) scale(0.84,1)" text-anchor="middle" font-family="Liberation Serif" font-weight="bold" font-size="22" fill="#4a8a3c" stroke="#4a8a3c" stroke-width="0.6">I</text>
<text transform="translate(33.53,56.03) rotate(-30.89) scale(0.84,1)" text-anchor="middle" font-family="Liberation Serif" font-weight="bold" font-size="22" fill="#4a8a3c" stroke="#4a8a3c" stroke-width="0.6">E</text>
<text transform="translate(44.66,47.64) rotate(-43.14) scale(0.84,1)" text-anchor="middle" font-family="Liberation Serif" font-weight="bold" font-size="22" fill="#4a8a3c" stroke="#4a8a3c" stroke-width="0.6">D</text>
</g>
</svg>
</body></html>
